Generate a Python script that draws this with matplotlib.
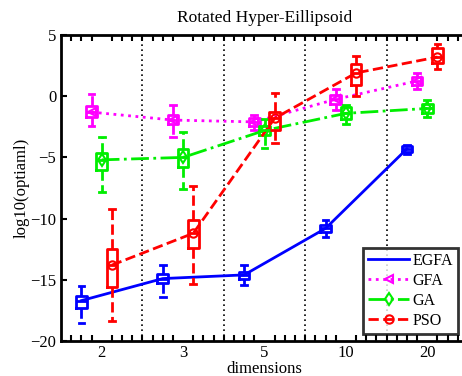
import matplotlib
matplotlib.use("Agg")
import matplotlib.pyplot as plt
import numpy as np

plt.rcParams['font.family'] = ['Liberation Serif', 'DejaVu Serif']

dims = ['2', '3', '5', '10', '20']
names = ['EGFA', 'GFA', 'GA', 'PSO']

# per algorithm: median, lower quartile, upper quartile, whisker low, whisker high
egfa_med = [-16.7, -14.9, -14.6, -10.8, -4.3]
egfa_q1 = [-17.3, -15.3, -14.95, -11.1, -4.55]
egfa_q3 = [-16.3, -14.5, -14.35, -10.55, -4.1]
egfa_lo = [-18.5, -16.4, -15.4, -11.5, -4.7]
egfa_hi = [-15.5, -13.8, -13.8, -10.1, -4.0]

gfa_med = [-1.3, -1.95, -2.1, -0.25, 1.25]
gfa_q1 = [-1.7, -2.3, -2.45, -0.65, 0.9]
gfa_q3 = [-0.8, -1.55, -1.8, 0.1, 1.55]
gfa_lo = [-2.45, -3.3, -2.8, -1.1, 0.55]
gfa_hi = [0.15, -0.7, -1.5, 0.6, 1.9]

ga_med = [-5.2, -5.0, -2.8, -1.4, -1.0]
ga_q1 = [-6.0, -5.8, -3.2, -1.9, -1.4]
ga_q3 = [-4.6, -4.3, -2.4, -0.9, -0.6]
ga_lo = [-7.8, -7.6, -4.2, -2.3, -1.7]
ga_hi = [-3.35, -2.9, -1.9, -0.7, -0.3]

pso_med = [-13.8, -11.2, -1.8, 1.9, 3.2]
pso_q1 = [-15.6, -12.4, -2.8, 0.9, 2.7]
pso_q3 = [-12.5, -10.1, -1.3, 2.6, 3.9]
pso_lo = [-18.4, -15.35, -3.8, 0.0, 2.2]
pso_hi = [-9.2, -7.3, 0.25, 3.3, 4.3]

series = [
    (egfa_med, egfa_q1, egfa_q3, egfa_lo, egfa_hi),
    (gfa_med, gfa_q1, gfa_q3, gfa_lo, gfa_hi),
    (ga_med, ga_q1, ga_q3, ga_lo, ga_hi),
    (pso_med, pso_q1, pso_q3, pso_lo, pso_hi),
]
colors = ['#0000ff', '#ff00ff', '#00ee00', '#ff0000']
styles = ['-', ':', '-.', '--']
markers = [None, '<', 'd', 'o']
offsets = [-0.25, -0.125, 0.0, 0.125]

fig = plt.figure(figsize=(4.62, 3.76), dpi=100)
ax = fig.add_axes([61 / 462, 35 / 376, 407 / 462, 306 / 376])

groups = np.arange(1, len(dims) + 1)
for (med, q1, q3, lo, hi), c, ls, mk, off, nm in zip(series, colors, styles, markers, offsets, names):
    pos = groups + off
    stats = [dict(med=m, q1=a, q3=b, whislo=l, whishi=h, fliers=[])
             for m, a, b, l, h in zip(med, q1, q3, lo, hi)]
    ax.bxp(stats, positions=pos, widths=0.13, showfliers=False, manage_ticks=False,
           boxprops=dict(color=c, lw=2),
           medianprops=dict(color=c, lw=2),
           whiskerprops=dict(color=c, lw=2, ls='--'),
           capprops=dict(color=c, lw=2), capwidths=0.07)
    ax.plot(pos, med, color=c, ls=ls, lw=2, marker=mk, ms=6, mfc='none', mew=1.5, label=nm)

for b in groups[:-1] + 0.5:
    ax.axvline(b, color='black', ls=(0, (1, 2)), lw=1.2, zorder=0)

ax.set_xlim(0.5, 5.5)
ax.set_ylim(-20, 5)
ax.set_xticks(groups)
ax.set_xticklabels(dims)
ax.set_xticks(np.arange(0.625, 5.5, 0.125), minor=True)
ax.set_yticks([-20, -15, -10, -5, 0, 5])
ax.tick_params(axis='x', which='both', direction='in', top=True, length=4, width=1.5, labelsize=12, pad=3)
ax.tick_params(axis='x', which='major', length=0)
ax.tick_params(axis='y', direction='in', length=4, width=1.5, labelsize=12)
for s in ax.spines.values():
    s.set_linewidth(2)

ax.set_title('Rotated Hyper-Eillipsoid', fontsize=12.5, pad=9)
ax.set_xlabel('dimensions', fontsize=12, labelpad=0)
ax.set_ylabel('log10(optiaml)', fontsize=12, labelpad=0)

leg = ax.legend(loc='upper left', bbox_to_anchor=(363 / 462, 1 - 248 / 376),
                bbox_transform=fig.transFigure, fancybox=False, edgecolor='black',
                fontsize=11.5, handlelength=2.6, borderaxespad=0, labelspacing=0.25,
                handletextpad=0.2, borderpad=0.3)
leg.get_frame().set_linewidth(2)

fig.savefig('out.png', dpi=100)
